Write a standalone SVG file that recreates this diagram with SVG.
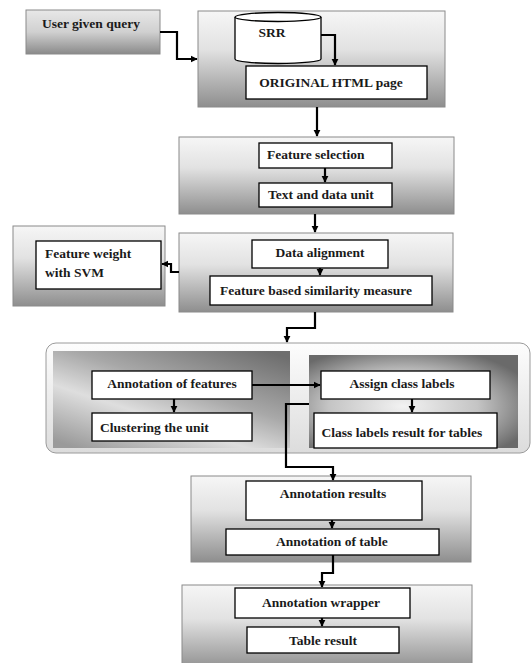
<svg xmlns="http://www.w3.org/2000/svg" width="532" height="663" viewBox="0 0 532 663">
<defs>
<linearGradient id="g" x1="0" y1="0" x2="0" y2="1">
<stop offset="0" stop-color="#f6f6f6"/>
<stop offset="0.4" stop-color="#e2e2e2"/>
<stop offset="1" stop-color="#8e8e8e"/>
</linearGradient>
<linearGradient id="gq" x1="0" y1="0" x2="0" y2="1">
<stop offset="0" stop-color="#e8e8e8"/>
<stop offset="0.5" stop-color="#d0d0d0"/>
<stop offset="1" stop-color="#8a8a8a"/>
</linearGradient>
<linearGradient id="gc" x1="0" y1="0" x2="0" y2="1">
<stop offset="0" stop-color="#fdfdfd"/>
<stop offset="1" stop-color="#dcdcdc"/>
</linearGradient>
<linearGradient id="gl" x1="0.1" y1="1" x2="0.9" y2="0">
<stop offset="0" stop-color="#9a9a9a"/>
<stop offset="0.35" stop-color="#dedede"/>
<stop offset="0.6" stop-color="#a8a8a8"/>
<stop offset="1" stop-color="#6e6e6e"/>
</linearGradient>
<radialGradient id="gr" cx="0.45" cy="0.55" r="0.65">
<stop offset="0" stop-color="#f2f2f2"/>
<stop offset="0.55" stop-color="#c4c4c4"/>
<stop offset="1" stop-color="#6a6a6a"/>
</radialGradient>
<marker id="ah" viewBox="0 0 10 10" refX="9" refY="5" markerWidth="3.2" markerHeight="3.2" orient="auto" markerUnits="strokeWidth">
<path d="M0,0 L10,5 L0,10 z" fill="#000"/>
</marker>
</defs>
<style>
.outer{fill:url(#g);stroke:#8a8a8a;stroke-width:1}
.inner{fill:#fff;stroke:#000;stroke-width:1.3}
.t{font-family:"Liberation Serif","Times New Roman",serif;font-weight:bold;font-size:13.5px;fill:#1a1a1a}
.c{text-anchor:middle}
.conn path{fill:none;stroke:#000;stroke-width:2.2;marker-end:url(#ah)}
</style>
<rect width="532" height="663" fill="#fff"/>

<g id="user-query">
<rect x="26" y="10" width="134" height="44" fill="url(#gq)" stroke="#8a8a8a"/>
<text class="t" x="42" y="28">User given query</text>
</g>

<g id="stage1">
<rect class="outer" x="198" y="11" width="247" height="96"/>
</g>
<g id="srr">
<path d="M235,17 V59 A43,4.5 0 0 0 321,59 V17" fill="#fff" stroke="#000" stroke-width="1.3"/>
<ellipse cx="278" cy="17" rx="43" ry="4.5" fill="#fff" stroke="#000" stroke-width="1.3"/>
<text class="t c" x="272" y="37">SRR</text>
</g>
<g id="original-html">
<rect class="inner" x="246" y="66" width="181" height="33"/>
<text class="t c" x="331" y="87">ORIGINAL HTML page</text>
</g>

<g id="stage2">
<rect class="outer" x="179" y="137" width="275" height="77"/>
</g>
<g id="feature-selection">
<rect class="inner" x="259" y="143" width="133" height="25"/>
<text class="t" x="267" y="159">Feature selection</text>
</g>
<g id="text-data-unit">
<rect class="inner" x="259" y="183" width="133" height="24"/>
<text class="t" x="268" y="199">Text and data unit</text>
</g>

<g id="stage3">
<rect class="outer" x="179" y="233" width="274" height="79"/>
</g>
<g id="data-alignment">
<rect class="inner" x="252" y="240" width="136" height="28"/>
<text class="t c" x="320" y="257">Data alignment</text>
</g>
<g id="feature-similarity">
<rect class="inner" x="210" y="276" width="222" height="29"/>
<text class="t c" x="316" y="295">Feature based similarity measure</text>
</g>

<g id="svm-stage">
<rect class="outer" x="13" y="226" width="152" height="80"/>
</g>
<g id="feature-weight-svm">
<rect class="inner" x="36" y="241" width="125" height="48"/>
<text class="t" x="45" y="258">Feature weight</text>
<text class="t" x="45" y="277">with SVM</text>
</g>

<g id="annotation-stage">
<rect x="46" y="343" width="484" height="110" rx="10" fill="url(#gc)" stroke="#9a9a9a"/>
<rect x="53" y="351" width="237" height="97" fill="url(#gl)"/>
<rect x="309" y="355" width="209" height="93" fill="url(#gr)"/>
</g>
<g id="annotation-features">
<rect class="inner" x="92" y="371" width="160" height="28"/>
<text class="t c" x="172" y="388">Annotation of features</text>
</g>
<g id="clustering-unit">
<rect class="inner" x="92" y="413" width="160" height="28"/>
<text class="t" x="100" y="432">Clustering the unit</text>
</g>
<g id="assign-class-labels">
<rect class="inner" x="321" y="371" width="169" height="28"/>
<text class="t c" x="402" y="388">Assign class labels</text>
</g>
<g id="class-labels-result">
<rect class="inner" x="314" y="413" width="183" height="35"/>
<text class="t c" x="402" y="437">Class labels result for tables</text>
</g>

<g id="results-stage">
<rect class="outer" x="191" y="476" width="280" height="86"/>
</g>
<g id="annotation-results">
<rect class="inner" x="246" y="481" width="176" height="39"/>
<text class="t c" x="333" y="498">Annotation results</text>
</g>
<g id="annotation-table">
<rect class="inner" x="226" y="529" width="213" height="26"/>
<text class="t c" x="332" y="546">Annotation of table</text>
</g>

<g id="wrapper-stage">
<rect class="outer" x="182" y="585" width="290" height="85"/>
</g>
<g id="annotation-wrapper">
<rect class="inner" x="235" y="588" width="175" height="30"/>
<text class="t c" x="321" y="607">Annotation wrapper</text>
</g>
<g id="table-result">
<rect class="inner" x="247" y="627" width="152" height="26"/>
<text class="t c" x="323" y="645">Table result</text>
</g>

<g id="connectors" class="conn">
<path d="M160,32 H177 V59 H197"/>
<path d="M321,35 H335 V65"/>
<path d="M317,107 V136"/>
<path d="M325,168 V182"/>
<path d="M315,214 V232"/>
<path d="M320,268 V275"/>
<path d="M179,272 H171 V264 H162"/>
<path d="M315,312 V328 H287 V342"/>
<path d="M252,385 H320"/>
<path d="M174,399 V412"/>
<path d="M412,399 V412"/>
<path d="M309,404 H286 V467 H333 V480"/>
<path d="M332,520 V528"/>
<path d="M333,555 V573 H322 V587"/>
<path d="M322,618 V626"/>
</g>
</svg>
